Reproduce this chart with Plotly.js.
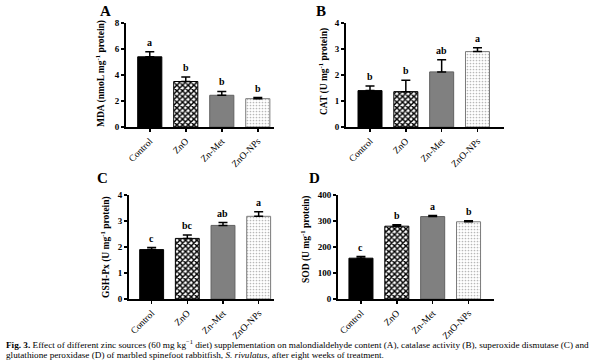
<!DOCTYPE html>
<html><head><meta charset="utf-8">
<script src="https://cdn.plot.ly/plotly-3.0.1.min.js"></script>
<style>html,body{margin:0;padding:0;background:#fff}#chart{width:600px;height:363px}</style>
</head><body><div id="chart"></div>
<script>
const categories = ['Control', 'ZnO', 'Zn-Met', 'ZnO-NPs'];
const mdaValues = [5.4, 3.5, 2.44, 2.18];
const mdaErrors = [0.38, 0.35, 0.3, 0.08];
const mdaLetters = ['a', 'b', 'b', 'b'];
const catValues = [1.4, 1.36, 2.12, 2.9];
const catErrors = [0.18, 0.44, 0.47, 0.15];
const catLetters = ['b', 'b', 'ab', 'a'];
const gshValues = [1.9, 2.33, 2.83, 3.18];
const gshErrors = [0.08, 0.13, 0.11, 0.18];
const gshLetters = ['c', 'bc', 'ab', 'a'];
const sodValues = [157, 280, 317, 297];
const sodErrors = [6, 6, 4, 4];
const sodLetters = ['c', 'b', 'a', 'b'];

const serif = 'Liberation Serif, Times New Roman, serif';
const W = 600, H = 363;
const px = v => v / W, py = v => 1 - v / H;

const barStyles = [
  {color: '#000000', line: '#000000'},
  {color: '#ffffff', line: '#000000', pattern: {shape: 'x', fgcolor: '#000000', bgcolor: '#ffffff', size: 4, solidity: 0.6, fillmode: 'replace'}},
  {color: '#808080', line: '#606060'},
  {color: '#ffffff', line: '#7a7a7a', pattern: {shape: '.', fgcolor: '#b8b8b8', bgcolor: '#ffffff', size: 3, solidity: 0.25, fillmode: 'replace'}}
];

const panels = [
  {vals: mdaValues, errs: mdaErrors, letters: mdaLetters, x: [126, 274], y: [23, 127], xr: [-0.66, 3.45], yr: [0, 8], dt: 2,
   title: 'MDA (nmoL mg<sup>-1</sup> protein)', tx: 100, ty: 74, lab: 'A', lx: 105, ly: 11},
  {vals: catValues, errs: catErrors, letters: catLetters, x: [346, 504], y: [23, 127], xr: [-0.67, 3.74], yr: [0, 4], dt: 1,
   title: 'CAT (U mg<sup>-1</sup> protein)', tx: 323, ty: 72, lab: 'B', lx: 321, ly: 11},
  {vals: gshValues, errs: gshErrors, letters: gshLetters, x: [129, 274], y: [195, 299], xr: [-0.635, 3.43], yr: [0, 4], dt: 1,
   title: 'GSH-Px (U mg<sup>-1</sup> protein)', tx: 105, ty: 247, lab: 'C', lx: 102, ly: 178},
  {vals: sodValues, errs: sodErrors, letters: sodLetters, x: [338, 494], y: [195, 299], xr: [-0.64, 3.71], yr: [0, 400], dt: 100,
   title: 'SOD (U mg<sup>-1</sup> protein)', tx: 305, ty: 240, lab: 'D', lx: 314, ly: 178}
];

const traces = [];
const layout = {
  width: W, height: H, margin: {l: 0, r: 0, t: 0, b: 0},
  paper_bgcolor: '#fff', plot_bgcolor: '#fff', showlegend: false, bargap: 0.33, barmode: 'overlay',
  font: {family: serif, color: '#000'},
  annotations: []
};

panels.forEach((p, i) => {
  const n = i === 0 ? '' : String(i + 1);
  categories.forEach((c, j) => {
    const s = barStyles[j];
    const marker = {color: s.color, line: {color: s.line, width: 1}, opacity: 1};
    if (s.pattern) marker.pattern = s.pattern;
    traces.push({
      type: 'bar', x: [c], y: [p.vals[j]], xaxis: 'x' + n, yaxis: 'y' + n, marker: marker,
      error_y: {type: 'data', symmetric: false, array: [p.errs[j]], arrayminus: [0],
                color: '#000', thickness: 1.5, width: 4.5},
      hoverinfo: 'none'
    });
  });
  layout['xaxis' + n] = {
    domain: [px(p.x[0]), px(p.x[1])], anchor: 'y' + n, range: p.xr, type: 'category', categoryarray: categories, categoryorder: 'array',
    showline: true, linecolor: '#000', linewidth: 2, ticks: 'outside', ticklen: 3, tickwidth: 1.5, tickcolor: '#000',
    tickangle: -45, tickfont: {family: serif, size: 9.5, color: '#000'}, showgrid: false, zeroline: false, fixedrange: true
  };
  layout['yaxis' + n] = {
    domain: [py(p.y[1]), py(p.y[0])], anchor: 'x' + n, range: p.yr, dtick: p.dt,
    showline: true, linecolor: '#000', linewidth: 2, ticks: 'outside', ticklen: 3, tickwidth: 1.5, tickcolor: '#000',
    tickfont: {family: serif, size: 9, color: '#000', weight: 'bold'}, showgrid: false, zeroline: false, fixedrange: true
  };
  layout.annotations.push({
    xref: 'paper', yref: 'paper', x: px(p.tx), y: py(p.ty), text: p.title, textangle: -90, showarrow: false,
    xanchor: 'center', yanchor: 'middle', font: {family: serif, size: 9.5, color: '#000', weight: 'bold'}
  });
  layout.annotations.push({
    xref: 'paper', yref: 'paper', x: px(p.lx), y: py(p.ly), text: p.lab, showarrow: false,
    xanchor: 'center', yanchor: 'middle', font: {family: serif, size: 15, color: '#000', weight: 'bold'}
  });
  p.letters.forEach((l, j) => {
    layout.annotations.push({
      xref: 'x' + n, yref: 'y' + n, x: categories[j], y: p.vals[j] + p.errs[j], text: l, showarrow: false,
      xanchor: 'center', yanchor: 'bottom', yshift: 2, font: {family: serif, size: 10, color: '#000', weight: 'bold'}
    });
  });
});

layout.annotations.push({
  xref: 'paper', yref: 'paper', x: px(4), y: py(344), xanchor: 'left', yanchor: 'middle', showarrow: false,
  text: '<b>Fig. 3.</b> Effect of different zinc sources (60 mg kg<sup>−1</sup> diet) supplementation on malondialdehyde content (A), catalase activity (B), superoxide dismutase (C) and',
  font: {family: serif, size: 9.2, color: '#000'}
});
layout.annotations.push({
  xref: 'paper', yref: 'paper', x: px(4), y: py(355), xanchor: 'left', yanchor: 'middle', showarrow: false,
  text: 'glutathione peroxidase (D) of marbled spinefoot rabbitfish, <i>S. rivulatus</i>, after eight weeks of treatment.',
  font: {family: serif, size: 9.2, color: '#000'}
});

Plotly.newPlot('chart', traces, layout, {staticPlot: true});
</script></body></html>
